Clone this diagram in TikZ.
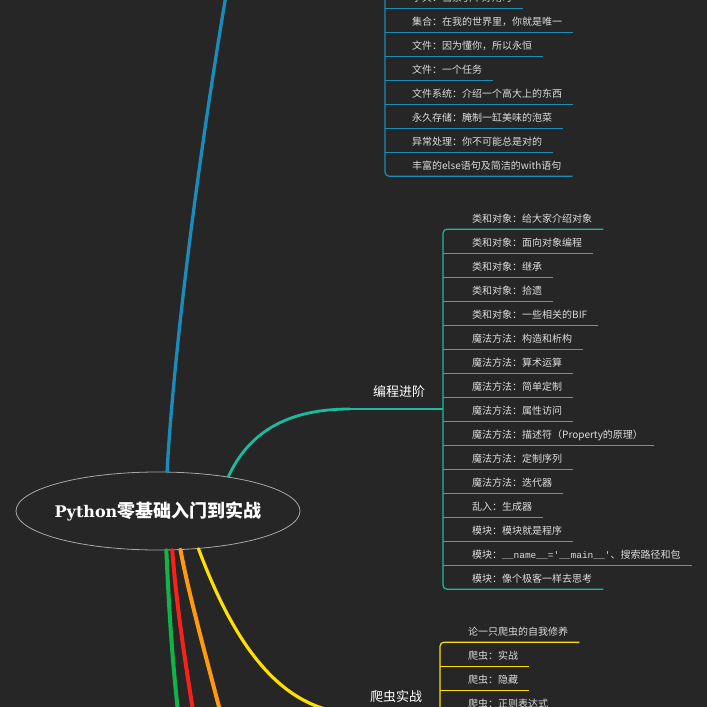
\documentclass[tikz,border=0pt]{standalone}
\usepackage{fontspec}
\newfontfamily\cjk{Noto Sans CJK SC}
\newfontfamily\slab{DejaVu Serif}
\newfontfamily\monof{Liberation Mono}
\usetikzlibrary{shapes.geometric}
\definecolor{bg}{HTML}{262626}
\definecolor{itemgray}{HTML}{DCDCDC}
\definecolor{bluebr}{HTML}{1A8CBB}
\definecolor{tealbr}{HTML}{1ABC9E}
\definecolor{yelbr}{HTML}{FFE000}
\definecolor{orgbr}{HTML}{FF9A10}
\definecolor{redbr}{HTML}{F8221A}
\definecolor{grnbr}{HTML}{10B54A}
\definecolor{ellgray}{HTML}{A8A8A8}
\begin{document}
\begin{tikzpicture}[x=1pt,y=-1pt,
  itembase/.style={anchor=west, inner xsep=11pt, inner ysep=0pt, minimum height=20pt,
    text=itemgray, font=\cjk\fontsize{10}{12}\selectfont},
  blueitem/.style={itembase},
  tealitem/.style={itembase},
  yelitem/.style={itembase},
  bluethin/.style={draw=bluebr, line width=1.2pt},
  tealthin/.style={draw=tealbr, line width=1.2pt},
  yelthin/.style={draw=yelbr, line width=1.2pt},
  mainbr/.style={line cap=round, line width=#1},
  brlabel/.style={text=white, inner sep=0pt, font=\cjk\fontsize{13}{15}\selectfont}]
\useasboundingbox (0,0) rectangle (707,707);
\clip (0,0) rectangle (707,707);
\fill[bg] (0,0) rectangle (707,707);

% root
\node[ellipse, minimum width=284pt, minimum height=78pt, draw=ellgray, line width=0.8pt, fill=bg] (root) at (158,511) {};

% coordinates
\coordinate (bluefar) at (232,-40);
\coordinate (bluej) at (385,-60);
\coordinate (tealend) at (350,409);
\coordinate (tealj) at (443,409);
\coordinate (yelend) at (360,714);
\coordinate (yelj) at (440,714);
\coordinate (yelbot) at (440,760);
\coordinate (grnend) at (180,730);
\coordinate (redend) at (196,730);
\coordinate (orgend) at (225,730);

% main branches
\draw[mainbr=3.3pt, bluebr] (root.77) .. controls (172,380) and (192,190) .. (bluefar);
\draw[mainbr=2.8pt, tealbr] (root.26) .. controls (250,430) and (290,409) .. (tealend);
\draw[tealthin] (tealend) -- (tealj);
\draw[mainbr=4pt, grnbr] (root.-78) .. controls (169,610) and (172,660) .. (grnend);
\draw[mainbr=4pt, redbr] (root.-70) .. controls (177,610) and (185,660) .. (redend);
\draw[mainbr=4pt, orgbr] (root.-60) .. controls (190,600) and (207,660) .. (orgend);
\draw[mainbr=3.2pt, yelbr] (root.-43) .. controls (240,660) and (290,714) .. (yelend);
\draw[yelthin] (yelend) -- (yelj);

% title
\node[text=white, inner sep=0pt] (title) at (root.center)
  {\slab\bfseries\fontsize{16}{20}\selectfont Python\cjk\fontsize{18}{20}\selectfont 零基础入门到实战};

% branch labels
\node[brlabel] (prog) at (399,392) {编程进阶};
\node[brlabel] (spider) at (396,697) {爬虫实战};

% blue items
\node[blueitem] (b1) at (401,-2) {字典：当索引不好用时};
\node[blueitem] (b2) at (401,22) {集合：在我的世界里，你就是唯一};
\node[blueitem] (b3) at (401,46) {文件：因为懂你，所以永恒};
\node[blueitem] (b4) at (401,70) {文件：一个任务};
\node[blueitem] (b5) at (401,94) {文件系统：介绍一个高大上的东西};
\node[blueitem] (b6) at (401,118) {永久存储：腌制一缸美味的泡菜};
\node[blueitem] (b7) at (401,142) {异常处理：你不可能总是对的};
\node[blueitem] (b8) at (401,166) {丰富的else语句及简洁的with语句};
\foreach \i in {1,...,7} \draw[bluethin] (b\i.south -| bluej) -- (b\i.south east);
\draw[bluethin, rounded corners=4pt] (bluej) -- (b8.south -| bluej) -- (b8.south east);

% teal items
\node[tealitem] (t1) at (461,219) {类和对象：给大家介绍对象};
\node[tealitem] (t2) at (461,243) {类和对象：面向对象编程};
\node[tealitem] (t3) at (461,267) {类和对象：继承};
\node[tealitem] (t4) at (461,291) {类和对象：拾遗};
\node[tealitem] (t5) at (461,315) {类和对象：一些相关的BIF};
\node[tealitem] (t6) at (461,339) {魔法方法：构造和析构};
\node[tealitem] (t7) at (461,363) {魔法方法：算术运算};
\node[tealitem] (t8) at (461,387) {魔法方法：简单定制};
\node[tealitem] (t9) at (461,411) {魔法方法：属性访问};
\node[tealitem] (t10) at (461,435) {魔法方法：描述符（Property的原理）};
\node[tealitem] (t11) at (461,459) {魔法方法：定制序列};
\node[tealitem] (t12) at (461,483) {魔法方法：迭代器};
\node[tealitem] (t13) at (461,507) {乱入：生成器};
\node[tealitem] (t14) at (461,531) {模块：模块就是程序};
\node[tealitem] (t15) at (461,555) {模块：{\monof\fontsize{9.5}{12}\selectfont \_\_name\_\_='\_\_main\_\_'}、搜索路径和包};
\node[tealitem] (t16) at (461,579) {模块：像个极客一样去思考};
\foreach \i in {2,...,15} \draw[tealthin] (t\i.south -| tealj) -- (t\i.south east);
\draw[tealthin, rounded corners=4pt] (t1.south east) -- (t1.south -| tealj) -- (t16.south -| tealj) -- (t16.south east);

% yellow items
\node[yelitem] (y1) at (457,632) {论一只爬虫的自我修养};
\node[yelitem] (y2) at (457,656) {爬虫：实战};
\node[yelitem] (y3) at (457,680) {爬虫：隐藏};
\node[yelitem] (y4) at (457,704) {爬虫：正则表达式};
\foreach \i in {2,3,4} \draw[yelthin] (y\i.south -| yelj) -- (y\i.south east);
\draw[yelthin, rounded corners=4pt] (y1.south east) -- (y1.south -| yelj) -- (yelbot);
\end{tikzpicture}
\end{document}
